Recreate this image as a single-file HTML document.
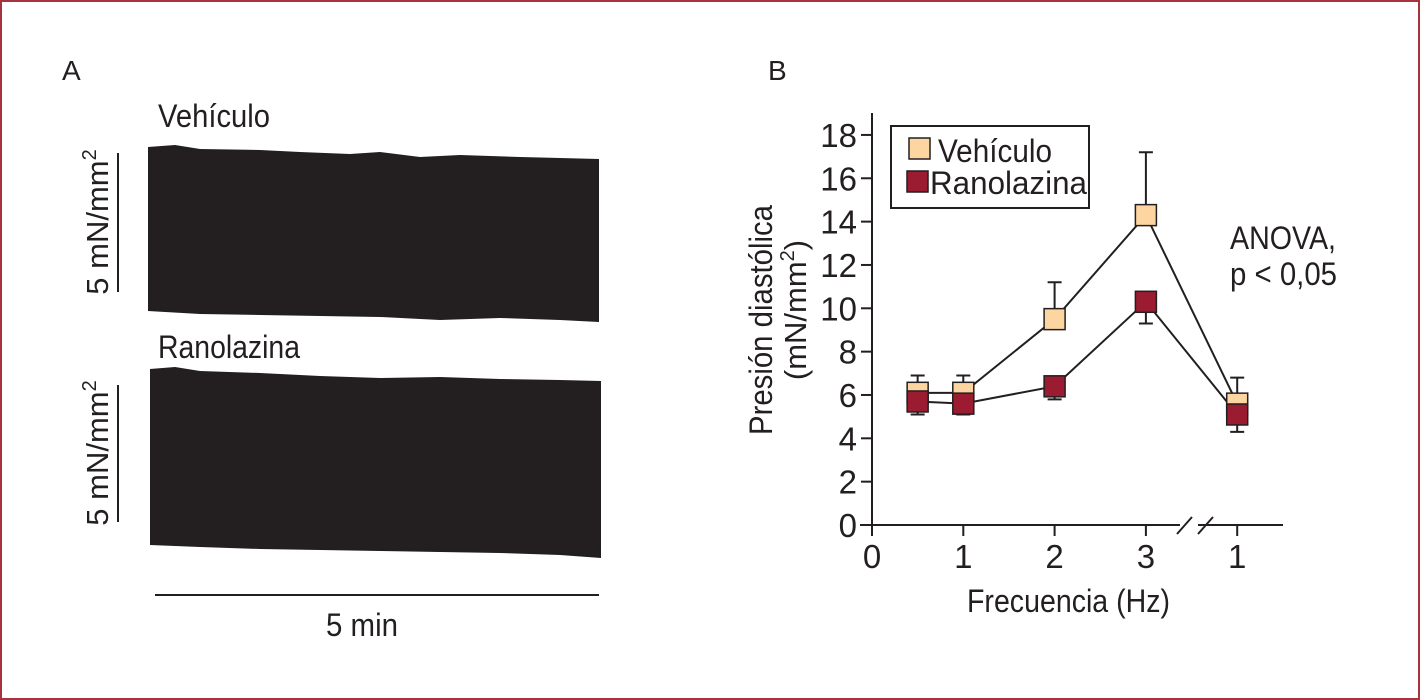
<!DOCTYPE html>
<html><head><meta charset="utf-8"><style>
body{margin:0;background:#fff}
svg{display:block;font-family:"Liberation Sans Narrow","Liberation Sans",sans-serif}
</style></head><body>
<svg id="fig" width="1420" height="700" viewBox="0 0 1420 700">
<rect x="1" y="1" width="1418" height="698" fill="#fff" stroke="#a8323e" stroke-width="2"/>
<text x="62" y="80" font-size="28" fill="#231f20">A</text>
<text x="768" y="80" font-size="28" fill="#231f20">B</text>
<!-- Panel A -->
<text x="158" y="127" font-size="32" textLength="112" lengthAdjust="spacingAndGlyphs" fill="#231f20">Vehículo</text>
<polygon fill="#231f20" points="148,147 175,145 200,149 260,150 300,152 350,154 380,152 420,157 460,155 520,157 560,158 599,159 599,322 560,320 500,318 440,320 380,317 320,316 260,315 200,314 148,311"/>
<text x="158" y="358" font-size="32" textLength="142" lengthAdjust="spacingAndGlyphs" fill="#231f20">Ranolazina</text>
<polygon fill="#231f20" points="150,369 175,367 200,371 260,373 320,376 380,378 440,377 500,379 560,380 601,381 601,558 560,555 500,553 440,552 380,551 320,550 260,549 200,547 150,545"/>
<line x1="118" y1="153" x2="118" y2="292" stroke="#231f20" stroke-width="2"/>
<text transform="translate(108,222) rotate(-90)" text-anchor="middle" font-size="31" fill="#231f20">5 mN/mm<tspan dy="-12" font-size="20">2</tspan></text>
<line x1="118" y1="385" x2="118" y2="522" stroke="#231f20" stroke-width="2"/>
<text transform="translate(108,453) rotate(-90)" text-anchor="middle" font-size="31" fill="#231f20">5 mN/mm<tspan dy="-12" font-size="20">2</tspan></text>
<line x1="155" y1="595" x2="599" y2="595" stroke="#231f20" stroke-width="2"/>
<text x="326" y="636" font-size="32" textLength="72" lengthAdjust="spacingAndGlyphs" fill="#231f20">5 min</text>
<!-- Panel B -->
<g id="chart"></g>
<text transform="translate(772,320) rotate(-90)" text-anchor="middle" font-size="32" textLength="230" lengthAdjust="spacingAndGlyphs" fill="#231f20">Presión diastólica</text>
<text transform="translate(806,310) rotate(-90)" text-anchor="middle" font-size="31" fill="#231f20">(mN/mm<tspan dy="-12" font-size="20">2</tspan><tspan dy="12">)</tspan></text>
<text x="967" y="612" font-size="32" textLength="203" lengthAdjust="spacingAndGlyphs" fill="#231f20">Frecuencia (Hz)</text>
<text x="1230" y="249" font-size="32" textLength="106" lengthAdjust="spacingAndGlyphs" fill="#231f20">ANOVA,</text>
<text x="1230" y="285" font-size="32" textLength="107" lengthAdjust="spacingAndGlyphs" fill="#231f20">p &lt; 0,05</text>
<rect x="891" y="126" width="198" height="82" fill="#fff" stroke="#231f20" stroke-width="2"/>
<rect x="909" y="138" width="21" height="21" fill="#fcd5a0" stroke="#231f20" stroke-width="1.5"/>
<text x="938" y="162" font-size="32" textLength="114" lengthAdjust="spacingAndGlyphs" fill="#231f20">Vehículo</text>
<rect x="907" y="171" width="21" height="21" fill="#9b1b30" stroke="#231f20" stroke-width="1.5"/>
<text x="930" y="194" font-size="32" textLength="157" lengthAdjust="spacingAndGlyphs" fill="#231f20">Ranolazina</text>
</svg>
<script>
const xPositions = [0.5, 1, 2, 3, 4];
const vehiculo = [6.1, 6.1, 9.5, 14.3, 5.6];
const vehiculoErrUp = [6.9, 6.9, 11.2, 17.2, 6.8];
const ranolazina = [5.7, 5.6, 6.4, 10.3, 5.1];
const ranolazinaErrDown = [5.1, 5.1, 5.8, 9.3, 4.3];
const yTicks = [0, 2, 4, 6, 8, 10, 12, 14, 16, 18];
const xTickValues = [0, 1, 2, 3, 4];
const xTickLabels = ["0", "1", "2", "3", "1"];

const NS = "http://www.w3.org/2000/svg";
const g = document.getElementById("chart");
const X = v => 872 + v * 91.3;
const Y = v => 525 - v * 21.67;
function mk(tag, attrs, parent) {
  const e = document.createElementNS(NS, tag);
  for (const k in attrs) e.setAttribute(k, attrs[k]);
  (parent || g).appendChild(e);
  return e;
}
let e;
e = mk("line", {x1: 872, y1: 113, x2: 872, y2: 526, stroke: "#231f20", "stroke-width": 2});


e = mk("path", {d: "M860,525H1180M1198,525H1283", stroke: "#231f20", "stroke-width": 2, fill: "none"});


e = mk("path", {d: "M1177,534L1192,517M1198,534L1213,517", stroke: "#231f20", "stroke-width": 2, fill: "none"});


yTicks.forEach(t => {
  e = mk("line", {x1: 861, x2: 872, y1: Y(t), y2: Y(t), stroke: "#231f20", "stroke-width": 2});
  
  
  e = mk("text", {x: 857, y: Y(t) + 12, "text-anchor": "end", "font-size": 33, fill: "#231f20"});
  e.textContent = t;
  
  
});
xTickValues.forEach((t, i) => {
  e = mk("line", {x1: X(t), x2: X(t), y1: 525, y2: 536, stroke: "#231f20", "stroke-width": 2});
  
  
  e = mk("text", {x: X(t), y: 568, "text-anchor": "middle", "font-size": 33, fill: "#231f20"});
  e.textContent = xTickLabels[i];
  
  
});
function series(vals, errs, name) {
  e = mk("polyline", {points: vals.map((v, i) => X(xPositions[i]) + "," + Y(v)).join(" "), fill: "none", stroke: "#231f20", "stroke-width": 2});
  
  
  vals.forEach((v, i) => {
    const x = X(xPositions[i]);
    e = mk("path", {d: `M${x},${Y(v)}V${Y(errs[i])}M${x-7},${Y(errs[i])}H${x+7}`, stroke: "#231f20", "stroke-width": 2, fill: "none"});
    
    
  });
}
series(vehiculo, vehiculoErrUp, "vehiculo");
series(ranolazina, ranolazinaErrDown, "ranolazina");
function markers(vals, fill, name) {
  vals.forEach((v, i) => {
    e = mk("rect", {x: X(xPositions[i]) - 10.5, y: Y(v) - 10.5, width: 21, height: 21, fill: fill, stroke: "#231f20", "stroke-width": 1.5});
    
    
  });
}
markers(vehiculo, "#fcd5a0", "vehiculo");
markers(ranolazina, "#9b1b30", "ranolazina");
</script>
</body></html>
